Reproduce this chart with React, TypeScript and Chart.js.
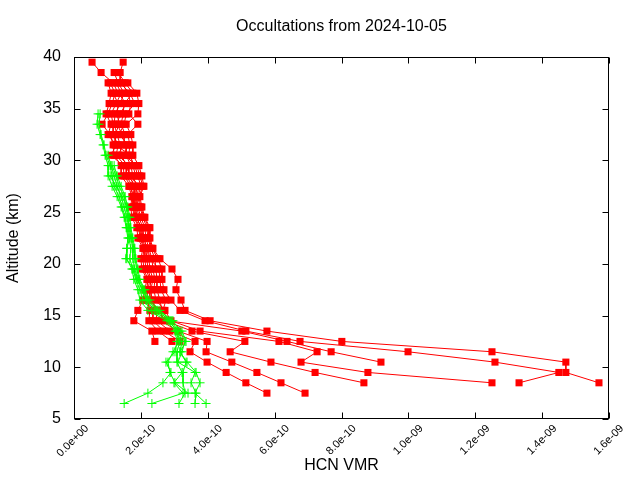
import React, { useEffect, useRef } from "react";
import { Chart, registerables } from "chart.js";

Chart.register(...registerables);

const TITLE = "Occultations from 2024-10-05";
const X_TITLE = "HCN VMR";
const Y_TITLE = "Altitude (km)";
const FONT = '"Liberation Sans", Arial, Helvetica, sans-serif';

const xTickLabels = ["0.0e+00", "2.0e-10", "4.0e-10", "6.0e-10", "8.0e-10", "1.0e-09", "1.2e-09", "1.4e-09", "1.6e-09"];
const yTickLabels = ["5", "10", "15", "20", "25", "30", "35", "40"];

// VMR values below are in units of 1e-10
const VMR_UNIT = 1e-10;

const redAltitudes = [39.5, 38.5, 37.5, 36.5, 35.5, 34.5, 33.5, 32.5, 31.5, 30.5, 29.5, 28.5, 27.5, 26.5, 25.5, 24.5, 23.5, 22.5, 21.5, 20.5, 19.5, 18.5, 17.5, 16.5, 15.5, 14.5, 13.5, 12.5, 11.5, 10.5, 9.5, 8.5, 7.5];

const red0 = [null, null, 1.08, 1.23, 1.14, 1.02, 0.84, 1.08, 1.17, 1.20, 1.41, 1.41, 1.64, 1.73, 1.70, 1.73, 1.88, 1.91, 2.06, 2.00, 2.03, 2.18, 2.12, 2.06, 1.91, 1.79, 2.33, 2.42, null, null, null, null, null];
const red1 = [null, null, 1.61, 1.88, 1.94, 1.91, 1.56, 1.70, 1.76, 1.76, 1.94, 2.03, 2.09, 1.97, 2.03, 2.12, 2.27, 2.27, 2.36, 2.57, 2.93, 3.11, 3.05, 3.20, 3.32, 4.07, 5.77, 8.01, 12.50, 14.71, 14.71, 15.70, null];
const red2 = [null, 1.20, 1.32, 1.50, 1.38, 1.23, 1.20, 1.29, 1.38, 1.41, 1.58, 1.56, 1.76, 1.79, 1.79, 1.82, 1.97, 2.00, 2.12, 2.12, 2.15, 2.27, 2.21, 2.18, 2.27, 2.24, 2.51, 2.93, null, null, null, null, null];
const red3 = [null, null, 1.02, 1.11, 1.05, 0.96, 1.11, 1.02, 1.26, 1.11, 1.47, 1.50, 1.70, 1.76, 1.76, 1.79, 1.94, 1.97, 2.09, 2.06, 2.09, 2.21, 2.18, 2.12, 2.36, 2.36, 2.69, 3.17, null, null, null, null, null];
const red4 = [0.54, 0.81, 1.17, 1.32, 1.56, 1.38, 1.29, 1.44, 1.56, 1.56, 1.70, 1.76, 1.88, 1.85, 1.88, 1.94, 2.06, 2.09, 2.18, 2.24, 2.27, 2.36, 2.30, 2.33, 2.45, 2.48, 2.87, 3.62, 3.47, 3.98, 4.55, 5.14, 5.77];
const red5 = [null, null, 1.44, 1.61, 1.70, 1.64, 1.91, 1.61, 1.67, 1.64, 1.82, 1.91, 2.00, 1.91, 1.97, 2.06, 2.18, 2.21, 2.30, 2.42, 2.45, 2.48, 2.48, 2.57, 2.63, 2.60, 3.11, 3.98, 3.95, 4.72, 5.47, 6.19, 6.91];
const red6 = [null, 1.32, 1.53, 1.76, 1.50, 1.47, 1.41, 1.53, 1.47, 1.32, 1.64, 1.64, 1.82, 1.82, 1.85, 1.88, 2.00, 2.03, 2.15, 2.18, 2.21, 2.30, 2.27, 2.27, 2.54, 2.72, 3.53, 5.11, 4.67, 5.89, 7.21, 8.67, null];
const red7 = [null, null, 1.26, 1.41, 1.26, 1.11, 1.17, 1.17, 1.32, 1.26, 1.53, 1.70, 1.94, 1.88, 1.91, 2.00, 2.12, 2.15, 2.24, 2.33, 2.36, 2.42, 2.39, 2.45, 2.72, 2.90, 3.77, 6.13, 7.27, 6.79, 8.79, 12.50, null];
const red8 = [1.47, 1.38, 1.38, 1.67, 1.82, 1.56, 1.50, 1.35, 1.61, 1.50, 1.88, 1.97, 2.06, 1.94, 2.00, 2.09, 2.24, 2.24, 2.33, 2.51, 2.63, 2.63, 2.69, 2.90, 3.17, 3.92, 5.14, 6.76, 9.99, 12.59, 14.50, 13.31, null];
const red9 = [null, null, null, 1.17, 1.32, 1.29, 1.35, 1.23, 1.23, 1.70, 1.76, 1.85, 1.67, 1.79, 1.82, 1.85, 2.03, 2.06, 2.21, 2.27, 2.54, 2.57, 2.60, 2.75, 2.66, 2.81, 5.02, 6.37, 7.69, 9.18, null, null, null];

const greenAltitudes = [34.5, 33.5, 32.5, 31.5, 30.5, 29.5, 28.5, 27.5, 26.5, 25.5, 24.5, 23.5, 22.5, 21.5, 20.5, 19.5, 18.5, 17.5, 16.5, 15.5, 14.5, 13.5, 12.5, 11.5, 10.5, 9.5, 8.5, 7.5, 6.5];

const green0 = [0.72, 0.69, 0.78, 0.87, 0.93, 1.02, 1.02, 1.14, 1.29, 1.41, 1.50, 1.56, 1.61, 1.58, 1.58, 1.73, 1.79, 1.91, 1.97, 2.21, 2.78, 3.02, 3.08, 3.02, 2.75, 2.90, 2.66, 2.21, 1.50];
const green1 = [0.78, 0.75, 0.81, 0.90, 0.96, 1.08, 1.14, 1.20, 1.35, 1.44, 1.53, 1.58, 1.64, 1.70, 1.67, 1.76, 1.85, 1.97, 2.06, 2.33, 2.84, 3.08, 3.17, 3.08, 3.08, 3.23, 2.99, 3.26, 2.33];
const green2 = [null, null, null, null, 1.02, 1.11, 1.20, 1.29, 1.41, 1.50, 1.58, 1.64, 1.70, 1.76, 1.76, 1.82, 1.91, 2.03, 2.15, 2.42, 2.90, 3.11, 3.23, 3.17, 3.35, 3.26, 3.26, 3.32, 3.14];
const green3 = [null, null, null, null, null, 1.14, 1.26, 1.35, 1.50, 1.56, 1.61, 1.67, 1.73, 1.79, 1.82, 1.88, 1.94, 2.09, 2.21, 2.51, 2.96, 3.17, 3.32, 3.23, 3.11, 3.62, 3.50, 3.65, 3.62];
const green4 = [null, null, null, null, null, 1.20, 1.29, 1.41, 1.53, 1.61, 1.67, 1.70, 1.76, 1.82, 1.85, 1.91, 1.97, 2.12, 2.27, 2.57, 2.93, 3.23, 3.35, 3.17, 3.38, 3.65, 3.77, 3.62, 3.95];
const green5 = [null, null, null, null, null, null, 1.08, 1.26, 1.44, 1.58, 1.64, 1.61, 1.67, 1.58, 1.55, 1.79, 1.88, 2.06, 2.18, 2.48, 2.87, 3.05, 3.14, 2.96, 2.81, 2.87, 3.02, 3.41, null];

const redProfiles = [red0, red1, red2, red3, red4, red5, red6, red7, red8, red9];
const greenProfiles = [green0, green1, green2, green3, green4, green5];

const RED = "#ff0000";
const GREEN = "#00ff00";

function toPoints(alts: number[], vals: (number | null)[]) {
  const pts: { x: number; y: number }[] = [];
  vals.forEach((v, i) => {
    if (v !== null && v !== undefined) pts.push({ x: v * VMR_UNIT, y: alts[i] });
  });
  return pts;
}

const framePlugin = {
  id: "gnuFrame",
  afterDatasetsDraw(chart: any) {
    const { ctx, chartArea, scales } = chart;
    const l = Math.round(chartArea.left) + 0.5;
    const r = Math.round(chartArea.right) - 0.5;
    const t = Math.round(chartArea.top) + 0.5;
    const b = Math.round(chartArea.bottom) - 0.5;
    const tick = 6;
    ctx.save();
    ctx.strokeStyle = "#000";
    ctx.lineWidth = 1;
    ctx.beginPath();
    scales.x.ticks.forEach((tk: any) => {
      const px = Math.round(scales.x.getPixelForValue(tk.value)) + 0.5;
      ctx.moveTo(px, b);
      ctx.lineTo(px, b - tick);
      ctx.moveTo(px, t);
      ctx.lineTo(px, t + tick);
    });
    scales.y.ticks.forEach((tk: any) => {
      const py = Math.round(scales.y.getPixelForValue(tk.value)) + 0.5;
      ctx.moveTo(l, py);
      ctx.lineTo(l + tick, py);
      ctx.moveTo(r, py);
      ctx.lineTo(r - tick, py);
    });
    ctx.stroke();
    ctx.strokeRect(l, t, r - l, b - t);
    ctx.restore();
  },
  afterDraw(chart: any) {
    const { ctx, chartArea } = chart;
    ctx.save();
    ctx.fillStyle = "#000";
    ctx.font = `16px ${FONT}`;
    ctx.textAlign = "center";
    ctx.textBaseline = "middle";
    ctx.fillText(TITLE, (chartArea.left + chartArea.right) / 2, 27);
    ctx.restore();
  },
};

export default function App() {
  const canvasRef = useRef<HTMLCanvasElement | null>(null);

  useEffect(() => {
    if (!canvasRef.current) return;
    Chart.defaults.font.family = FONT;
    Chart.defaults.color = "#000";

    const greenSets = greenProfiles.map((vals, i) => ({
      label: `green${i}`,
      data: toPoints(greenAltitudes, vals),
      showLine: true,
      borderColor: GREEN,
      backgroundColor: GREEN,
      borderWidth: 1,
      pointStyle: "cross",
      pointRadius: 4.5,
      pointBorderWidth: 1,
      pointBorderColor: GREEN,
      pointBackgroundColor: GREEN,
      tension: 0,
    }));
    const redSets = redProfiles.map((vals, i) => ({
      label: `red${i}`,
      data: toPoints(redAltitudes, vals),
      showLine: true,
      borderColor: RED,
      backgroundColor: RED,
      borderWidth: 1,
      pointStyle: "rect",
      pointRadius: 5,
      pointBorderWidth: 0,
      pointBorderColor: RED,
      pointBackgroundColor: RED,
      tension: 0,
    }));

    const chart = new Chart(canvasRef.current, {
      type: "scatter",
      data: { datasets: [...greenSets, ...redSets] as any },
      options: {
        animation: false,
        responsive: false,
        events: [],
        layout: { padding: { top: 57, right: 31, left: 0, bottom: 0 } },
        plugins: {
          legend: { display: false },
          title: { display: false },
          tooltip: { enabled: false },
        },
        scales: {
          x: {
            type: "linear",
            min: 0,
            max: 1.6e-9,
            afterBuildTicks: (scale: any) => {
              scale.ticks = xTickLabels.map((l) => ({ value: parseFloat(l) }));
            },
            afterFit: (scale: any) => {
              scale.height = 61;
            },
            ticks: {
              autoSkip: false,
              minRotation: 45,
              maxRotation: 45,
              padding: 3,
              labelOffset: 13,
              color: "#000",
              font: { size: 11, family: FONT },
              callback: (_v: any, i: number) => xTickLabels[i],
            },
            grid: { display: false, drawTicks: false },
            border: { display: false },
            title: {
              display: true,
              text: X_TITLE,
              color: "#000",
              font: { size: 16, family: FONT },
              padding: { top: 0, bottom: 5 },
            },
          },
          y: {
            type: "linear",
            min: 5,
            max: 40,
            afterBuildTicks: (scale: any) => {
              scale.ticks = yTickLabels.map((l) => ({ value: parseFloat(l) }));
            },
            afterFit: (scale: any) => {
              scale.width = 74;
            },
            ticks: {
              padding: 13,
              color: "#000",
              font: { size: 16, family: FONT },
              callback: (_v: any, i: number) => yTickLabels[i],
            },
            grid: { display: false, drawTicks: false },
            border: { display: false },
            title: {
              display: true,
              text: Y_TITLE,
              color: "#000",
              font: { size: 16, family: FONT },
              padding: { top: 4, bottom: 0 },
            },
          },
        },
      } as any,
      plugins: [framePlugin],
    });
    return () => chart.destroy();
  }, []);

  return (
    <div style={{ position: "absolute", left: 0, top: 0, width: 640, height: 480, background: "#fff" }}>
      <canvas ref={canvasRef} width={640} height={480} style={{ display: "block" }} />
    </div>
  );
}
